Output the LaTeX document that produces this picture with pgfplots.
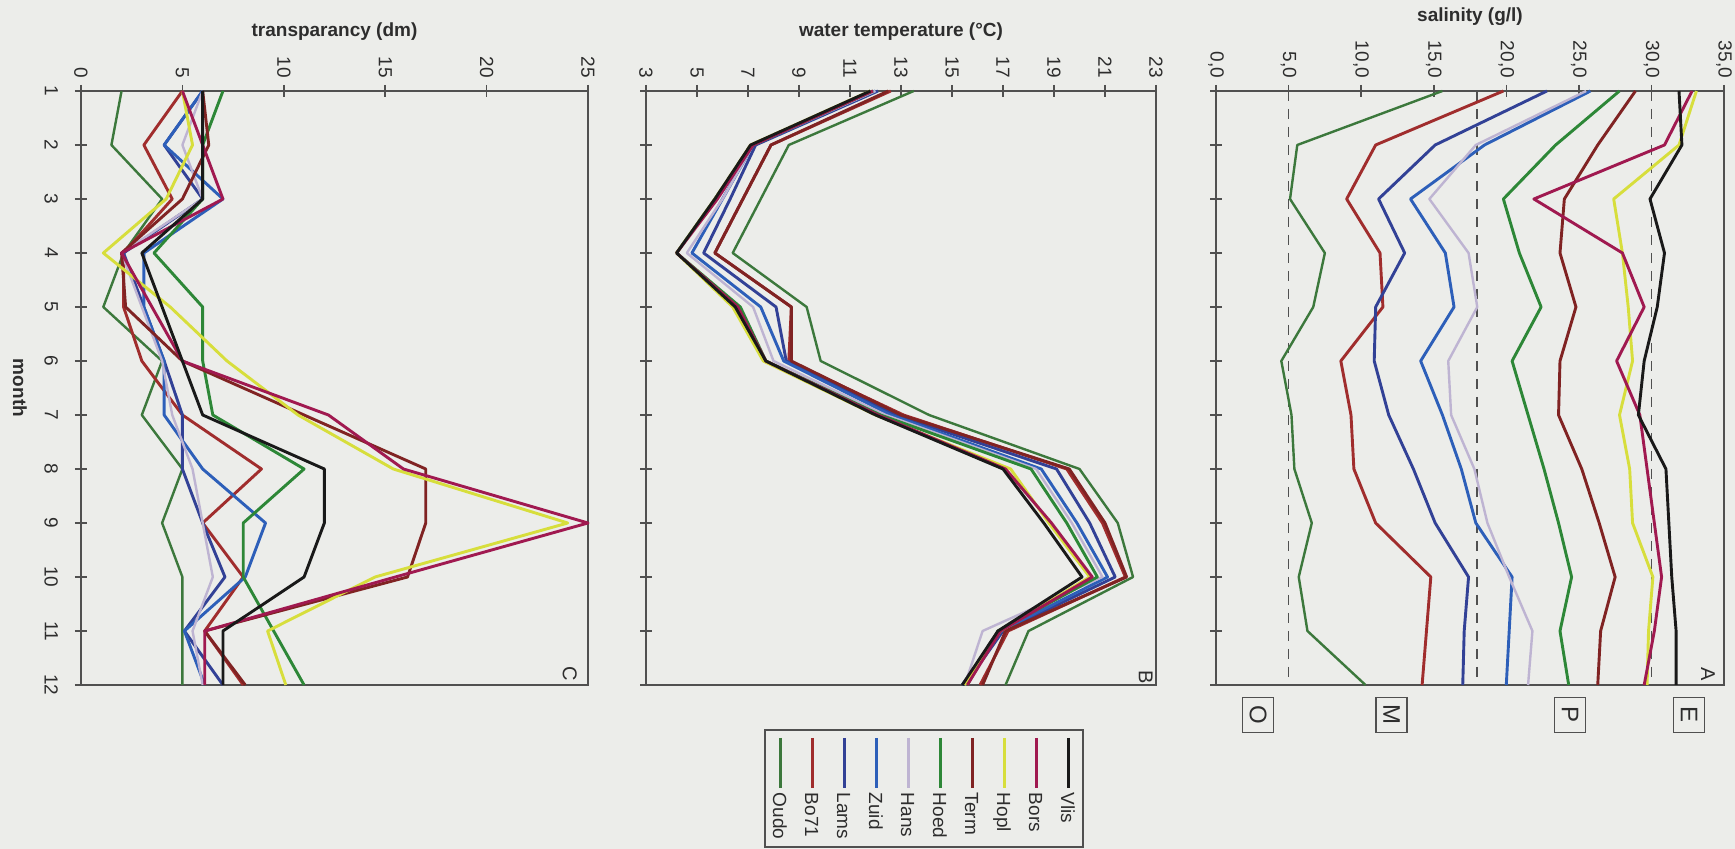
\documentclass[border=0pt]{standalone}
\usepackage{pgfplots}
\pgfplotsset{compat=1.18}
\usepackage{fontspec}
\setmainfont{Liberation Sans}
\definecolor{bg}{RGB}{236,237,234}
\definecolor{frame}{RGB}{80,80,80}
\definecolor{txt}{RGB}{45,45,45}
\definecolor{cVlis}{RGB}{25,25,25}
\definecolor{cBors}{RGB}{160,25,80}
\definecolor{cHopl}{RGB}{215,222,60}
\definecolor{cTerm}{RGB}{128,35,35}
\definecolor{cHoed}{RGB}{45,135,55}
\definecolor{cHans}{RGB}{190,180,210}
\definecolor{cZuid}{RGB}{45,95,185}
\definecolor{cLams}{RGB}{50,65,150}
\definecolor{cBo71}{RGB}{160,45,45}
\definecolor{cOudo}{RGB}{60,120,60}
\pgfplotsset{
  panel/.style={
    scale only axis, anchor=south west, height=297pt,
    y dir=reverse, ymin=1, ymax=12, ytick={1,...,12},
    clip=false,
    xtick pos=upper, xticklabel pos=upper, ytick pos=left,
    axis line style={frame, line width=0.8pt},
    every tick/.style={frame, line width=0.8pt},
    major tick length=6pt, tick align=center,
    axis background/.style={fill=bg},
    xticklabel style={rotate=-90, anchor=east, font=\fontsize{9.5}{10}\selectfont, text=txt},
    yticklabel style={rotate=-90, anchor=north, font=\fontsize{9.5}{10}\selectfont, text=txt},
    yticklabel shift=5pt,
    /pgf/number format/assume math mode=true,
    every axis plot/.append style={line width=1.45pt, mark=none, line join=round},
  },
}
\tikzset{zone/.style={yshift=-15pt, rotate=-90, draw=frame, line width=0.8pt, minimum width=17.5pt, minimum height=15.5pt, inner sep=0pt, font=\fontsize{12}{12}\selectfont, text=txt}}
\newcommand\leg[1]{\textcolor{#1}{\rule[0.3em]{25pt}{1.4pt}}\hspace{2.5pt}}
\begin{document}
\begin{tikzpicture}[x=1pt,y=1pt]
\fill[bg] (0,0) rectangle (867.5,424.5);
% ---------------- Panel C: transparency
\begin{axis}[panel, at={(40.5pt,82pt)}, width=253.5pt, xmin=0, xmax=25, xtick={0,5,...,25}]
\addplot[cOudo, line width=1.2pt] coordinates {(2,1) (1.5,2) (4,3) (2.1,4) (1.1,5) (4,6) (3,7) (5,8) (4,9) (5,10) (5,11) (5,12)};
\addplot[cBo71] coordinates {(5,1) (3.1,2) (4.5,3) (2.1,4) (2.1,5) (3,6) (5,7) (8.9,8) (6,9) (8,10) (6.1,11) (8,12)};
\addplot[cLams] coordinates {(6,1) (4.1,2) (6,3) (2.1,4) (3.1,5) (4.1,6) (5,7) (5,8) (6,9) (7.1,10) (5.1,11) (7,12)};
\addplot[cZuid] coordinates {(6,1) (4.1,2) (7,3) (3.1,4) (3.1,5) (4.1,6) (4.1,7) (6,8) (9.1,9) (8.1,10) (5.1,11) (6.1,12)};
\addplot[cHans, line width=1.2pt] coordinates {(6,1) (5,2) (6,3) (2,4) (3,5) (4,6) (4.5,7) (5.5,8) (6,9) (6.5,10) (5.5,11) (6,12)};
\addplot[cHoed] coordinates {(7,1) (6,2) (6,3) (3.6,4) (6,5) (6,6) (6.5,7) (11,8) (8,9) (8,10) (9.5,11) (11,12)};
\addplot[cTerm] coordinates {(6,1) (6.3,2) (5,3) (2,4) (2.2,5) (5,6) (11,7) (17,8) (17,9) (16.1,10) (6.1,11) (8.1,12)};
\addplot[cHopl] coordinates {(5,1) (5.5,2) (4.2,3) (1.1,4) (4.4,5) (7.2,6) (10.7,7) (15.4,8) (24,9) (14.5,10) (9.2,11) (10.1,12)};
\addplot[cBors] coordinates {(5,1) (6,2) (7,3) (2,4) (3.5,5) (5,6) (12.2,7) (15.9,8) (25,9) (15.5,10) (6.1,11) (6.1,12)};
\addplot[cVlis] coordinates {(6,1) (6,2) (6,3) (3,4) (4,5) (5,6) (6,7) (12,8) (12,9) (11,10) (7,11) (7,12)};
\node[yshift=29.5pt, font=\bfseries\fontsize{9.5}{10}\selectfont, text=txt] at (axis cs:12.5,1) {transparancy (dm)};
\node[xshift=-30.5pt, rotate=-90, font=\bfseries\fontsize{9.5}{10}\selectfont, text=txt] at (axis cs:0,6.5) {month};
\node[rotate=-90, font=\fontsize{10}{10}\selectfont, text=txt] at (axis cs:24.1,11.8) {C};
\end{axis}
% ---------------- Panel B: water temperature
\begin{axis}[panel, at={(323pt,82pt)}, width=255pt, xmin=3, xmax=23, xtick={3,5,...,23}, yticklabels={}]
\addplot[cOudo, line width=1.2pt] coordinates {(13.5,1) (8.6,2) (7.5,3) (6.4,4) (9.3,5) (9.85,6) (14.1,7) (20,8) (21.5,9) (22.1,10) (18,11) (17.1,12)};
\addplot[cBo71] coordinates {(12.6,1) (7.9,2) (6.8,3) (5.7,4) (8.7,5) (8.6,6) (13.1,7) (19.5,8) (20.9,9) (21.8,10) (17.2,11) (16.1,12)};
\addplot[cLams] coordinates {(12.1,1) (7.3,2) (6.3,3) (5.26,4) (8.1,5) (8.5,6) (12.8,7) (19.1,8) (20.4,9) (21.4,10) (17,11) (15.5,12)};
\addplot[cZuid] coordinates {(12,1) (7.2,2) (6,3) (4.8,4) (7.5,5) (8.4,6) (12.6,7) (18.5,8) (19.9,9) (21.1,10) (16.9,11) (15.4,12)};
\addplot[cHans, line width=1.2pt] coordinates {(12,1) (7.2,2) (6,3) (4.6,4) (7.2,5) (8,6) (12.4,7) (18.3,8) (19.7,9) (20.9,10) (16.2,11) (15.5,12)};
\addplot[cHoed] coordinates {(11.9,1) (7.2,2) (5.7,3) (4.2,4) (6.7,5) (7.7,6) (12.2,7) (18.1,8) (19.5,9) (20.7,10) (16.8,11) (15.6,12)};
\addplot[cTerm] coordinates {(12.5,1) (7.9,2) (6.8,3) (5.7,4) (8.7,5) (8.7,6) (13,7) (19.6,8) (21,9) (21.85,10) (17.1,11) (16.2,12)};
\addplot[cHopl] coordinates {(11.8,1) (7.1,2) (5.7,3) (4.2,4) (6.4,5) (7.6,6) (12,7) (17.3,8) (18.8,9) (20.4,10) (16.9,11) (15.5,12)};
\addplot[cBors] coordinates {(11.9,1) (7.2,2) (5.8,3) (4.2,4) (6.6,5) (7.7,6) (12.1,7) (17.1,8) (18.9,9) (20.5,10) (16.9,11) (15.6,12)};
\addplot[cVlis] coordinates {(11.8,1) (7.1,2) (5.7,3) (4.2,4) (6.5,5) (7.7,6) (12,7) (17,8) (18.6,9) (20.1,10) (16.8,11) (15.4,12)};
\node[yshift=29.5pt, font=\bfseries\fontsize{9.5}{10}\selectfont, text=txt] at (axis cs:13,1) {water temperature (°C)};
\node[rotate=-90, font=\fontsize{10}{10}\selectfont, text=txt] at (axis cs:22.6,11.85) {B};
\end{axis}
% ---------------- Panel A: salinity
\begin{axis}[panel, at={(608pt,82pt)}, width=254pt, xmin=0, xmax=35, xtick={0,5,...,35}, yticklabels={},
  xticklabel style={/pgf/number format/.cd, fixed, fixed zerofill, precision=1, use comma}]
\addplot[frame, line width=0.9pt, dash pattern=on 5pt off 4pt] coordinates {(5,1) (5,12)};
\addplot[frame, line width=0.9pt, dash pattern=on 5pt off 4pt] coordinates {(18,1) (18,12)};
\addplot[frame, line width=0.9pt, dash pattern=on 5pt off 4pt] coordinates {(30,1) (30,12)};
\addplot[cOudo, line width=1.2pt] coordinates {(15.6,1) (5.6,2) (5.1,3) (7.5,4) (6.7,5) (4.5,6) (5.2,7) (5.4,8) (6.6,9) (5.7,10) (6.3,11) (10.3,12)};
\addplot[cBo71] coordinates {(19.8,1) (11,2) (9,3) (11.3,4) (11.5,5) (8.6,6) (9.3,7) (9.5,8) (11,9) (14.8,10) (14.5,11) (14.2,12)};
\addplot[cLams] coordinates {(22.8,1) (15.1,2) (11.2,3) (13,4) (11,5) (10.9,6) (11.9,7) (13.6,8) (15.1,9) (17.4,10) (17.1,11) (17,12)};
\addplot[cZuid] coordinates {(25.8,1) (18.5,2) (13.4,3) (15.8,4) (16.4,5) (14.1,6) (15.6,7) (16.9,8) (17.9,9) (20.4,10) (20.2,11) (20,12)};
\addplot[cHans, line width=1.2pt] coordinates {(25.5,1) (17.9,2) (14.7,3) (17.4,4) (18,5) (16,6) (16.2,7) (17.8,8) (18.7,9) (20.2,10) (21.8,11) (21.5,12)};
\addplot[cHoed] coordinates {(27.8,1) (23.4,2) (19.8,3) (20.9,4) (22.4,5) (20.4,6) (21.5,7) (22.6,8) (23.6,9) (24.5,10) (23.7,11) (24.3,12)};
\addplot[cTerm] coordinates {(28.9,1) (26.3,2) (24,3) (23.7,4) (24.8,5) (23.7,6) (23.6,7) (25.2,8) (26.4,9) (27.5,10) (26.5,11) (26.3,12)};
\addplot[cHopl] coordinates {(33.1,1) (31.9,2) (27.4,3) (28,4) (28.4,5) (28.7,6) (27.8,7) (28.5,8) (28.7,9) (30.1,10) (29.8,11) (29.7,12)};
\addplot[cBors] coordinates {(32.8,1) (30.9,2) (21.9,3) (28,4) (29.5,5) (27.6,6) (29.2,7) (29.7,8) (30.2,9) (30.7,10) (30.2,11) (29.5,12)};
\addplot[cVlis] coordinates {(31.9,1) (32.1,2) (29.9,3) (30.9,4) (30.4,5) (29.5,6) (29.1,7) (31,8) (31.2,9) (31.4,10) (31.7,11) (31.7,12)};
\node[yshift=37pt, font=\bfseries\fontsize{9.5}{10}\selectfont, text=txt] at (axis cs:17.5,1) {salinity (g/l)};
\node[rotate=-90, font=\fontsize{10}{10}\selectfont, text=txt] at (axis cs:33.9,11.8) {A};
\node[zone] at (axis cs:2.9,12) {O};
\node[zone] at (axis cs:12.1,12) {M};
\node[zone] at (axis cs:24.4,12) {P};
\node[zone] at (axis cs:32.6,12) {E};
\end{axis}
% ---------------- legend
\node[draw=frame, line width=0.8pt, fill=bg, rotate=-90, anchor=west, inner xsep=4pt, inner ysep=4pt,
  align=left, font=\fontsize{9.5}{16}\selectfont, text=txt] at (462,60)
  {\leg{cVlis}Vlis\\ \leg{cBors}Bors\\ \leg{cHopl}Hopl\\ \leg{cTerm}Term\\ \leg{cHoed}Hoed\\
   \leg{cHans}Hans\\ \leg{cZuid}Zuid\\ \leg{cLams}Lams\\ \leg{cBo71}Bo71\\ \leg{cOudo}Oudo};
\pgfresetboundingbox
\path[use as bounding box] (0,0) rectangle (867.5,424.5);
\end{tikzpicture}
\end{document}
